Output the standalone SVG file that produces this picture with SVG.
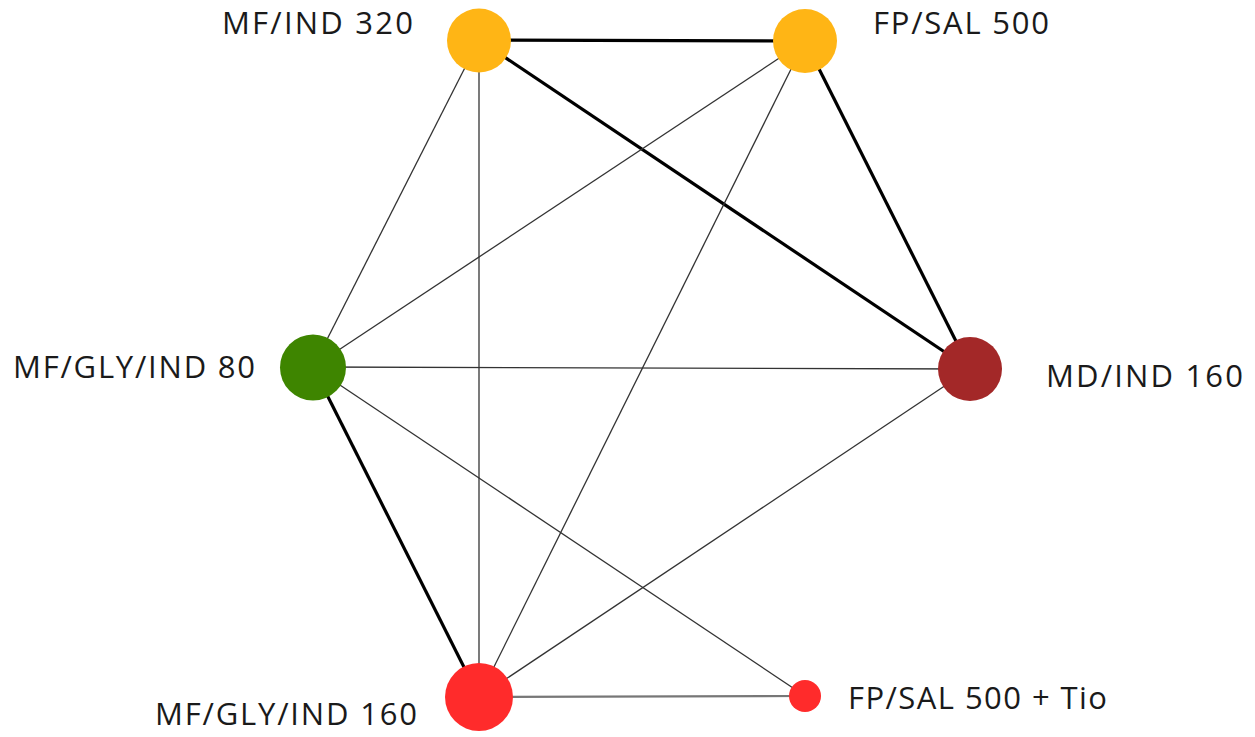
<svg xmlns="http://www.w3.org/2000/svg" width="1255" height="737" viewBox="0 0 1255 737">
<style>
.thick{stroke:#000;stroke-width:3.2;fill:none}
.thin{stroke:#333;stroke-width:1.3;fill:none}
.grey{stroke:#777;stroke-width:2.2;fill:none}
text{font-family:"Open Sans","Noto Sans","Liberation Sans",sans-serif;font-size:31px;fill:#1a1a1a}
</style>
<rect width="1255" height="737" fill="#fff"/>
<g id="connectors">
<line class="thick" x1="479" y1="40" x2="805" y2="41"/>
<line class="thick" x1="479" y1="40" x2="970" y2="369"/>
<line class="thick" x1="805" y1="41" x2="970" y2="369"/>
<line class="thick" x1="313" y1="367" x2="479" y2="697"/>
<line class="thin" x1="479" y1="40" x2="313" y2="367"/>
<line class="thin" x1="479" y1="40" x2="479" y2="697"/>
<line class="thin" x1="805" y1="41" x2="313" y2="367"/>
<line class="thin" x1="805" y1="41" x2="479" y2="697"/>
<line class="thin" x1="313" y1="367" x2="970" y2="369"/>
<line class="thin" x1="313" y1="367" x2="805" y2="696"/>
<line class="thin" x1="970" y1="369" x2="479" y2="697"/>
<line class="grey" x1="479" y1="697" x2="805" y2="696"/>
</g>
<g id="n-mfind320"><circle cx="479" cy="40.5" r="32" fill="#FFB515"/><text x="222" y="34" textLength="191">MF/IND 320</text></g>
<g id="n-fpsal500"><circle cx="805" cy="41" r="32" fill="#FFB515"/><text x="873" y="34" textLength="176">FP/SAL 500</text></g>
<g id="n-mfglyind80"><circle cx="313" cy="367.5" r="33" fill="#3E8500"/><text x="13" y="378" textLength="242">MF/GLY/IND 80</text></g>
<g id="n-mdind160"><circle cx="970" cy="369" r="32" fill="#A32828"/><text x="1046" y="387" textLength="197">MD/IND 160</text></g>
<g id="n-mfglyind160"><circle cx="479" cy="697" r="34" fill="#FF2B2B"/><text x="155" y="725" textLength="262">MF/GLY/IND 160</text></g>
<g id="n-fpsaltio"><circle cx="805" cy="696" r="16" fill="#FF2B2B"/><text x="848" y="709" textLength="259">FP/SAL 500 + Tio</text></g>
</svg>
